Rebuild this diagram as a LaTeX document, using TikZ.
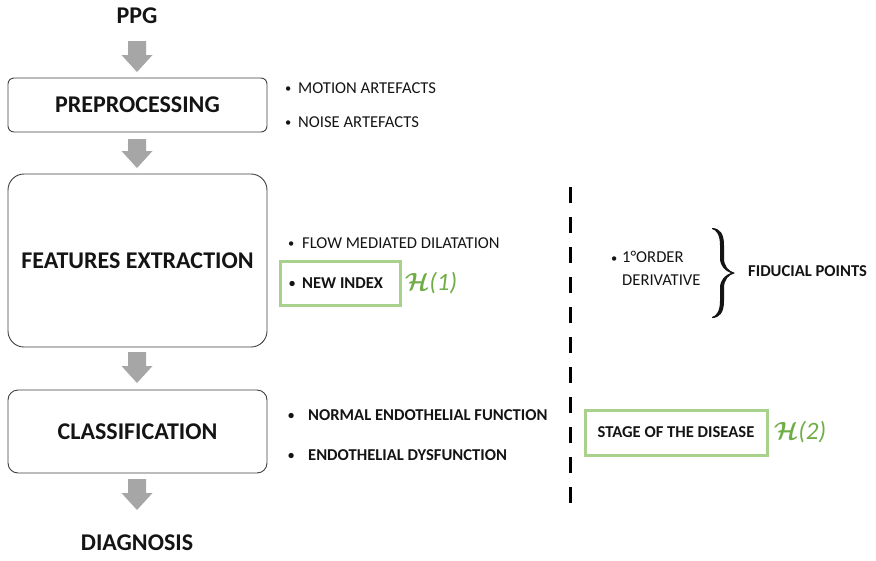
\documentclass[tikz,border=0pt]{standalone}
\usepackage{fontspec}
\setmainfont{Carlito}
\usetikzlibrary{calc}
\definecolor{arrowgray}{RGB}{166,166,166}
\definecolor{boxline}{RGB}{64,64,64}
\definecolor{softgreen}{RGB}{169,209,142}
\definecolor{hgreen}{RGB}{112,173,71}
\definecolor{ink}{RGB}{20,20,20}
\newcommand{\dotmark}[1]{\makebox[#1][l]{\raisebox{0.6pt}{\scalebox{0.75}{•}}}}
\newcommand{\hsym}[1]{{\mathversion{bold}$\mathcal{H}$}\textit{(#1)}}
\begin{document}
\begin{tikzpicture}[x=1pt,y=-1pt,
  stagebox/.style={draw=boxline,line width=0.9pt,fill=white,inner sep=0pt,
    font=\bfseries\fontsize{24}{24}\selectfont,text=ink},
  bigtitle/.style={font=\bfseries\fontsize{24}{24}\selectfont,text=ink,inner sep=0pt},
  item/.style={anchor=west,inner sep=0pt,font=\fontsize{16.6}{16.6}\selectfont,text=ink},
  bolditem/.style={item,font=\bfseries\fontsize{16.6}{16.6}\selectfont},
  greenbox/.style={draw=softgreen,line width=3pt,inner sep=0pt},
  hlabel/.style={font=\fontsize{25}{25}\selectfont,text=hgreen,inner sep=0pt},
  divider/.style={line width=3.5pt,dash pattern=on 16pt off 14pt},
  blockarrow/.style={to path={let \p1=(\tikztostart), \p2=(\tikztotarget) in
    (\x1-9pt,\y1) -- (\x1+9pt,\y1) -- (\x1+9pt,\y2+17pt) -- (\x1+15.5pt,\y2+17pt)
    -- (\x2,\y2) -- (\x1-15.5pt,\y2+17pt) -- (\x1-9pt,\y2+17pt) -- cycle}}
]
\useasboundingbox (0,0) rectangle (876,560);

% main pipeline
\node[bigtitle] (ppg) at (137,16) {PPG};
\node[stagebox,minimum width=259pt,minimum height=54pt,rounded corners=6pt]
  (pre) at (137.5,105) {PREPROCESSING};
\node[stagebox,minimum width=259pt,minimum height=173pt,rounded corners=16pt]
  (feat) at (137.5,260.5) {FEATURES EXTRACTION};
\node[stagebox,minimum width=259pt,minimum height=83pt,rounded corners=10pt]
  (cls) at (137.5,431.5) {CLASSIFICATION};
\node[bigtitle] (diag) at (137,543) {DIAGNOSIS};

% gray block arrows between the stages
\coordinate (a1s) at (137,41);  \coordinate (a1e) at (137,72);
\coordinate (a2s) at (137,139); \coordinate (a2e) at (137,168);
\coordinate (a3s) at (137,352); \coordinate (a3e) at (137,383);
\coordinate (a4s) at (137,479); \coordinate (a4e) at (137,510);
\fill[arrowgray] (a1s) to[blockarrow] (a1e);
\fill[arrowgray] (a2s) to[blockarrow] (a2e);
\fill[arrowgray] (a3s) to[blockarrow] (a3e);
\fill[arrowgray] (a4s) to[blockarrow] (a4e);

% preprocessing notes
\node[item] (motion) at (285,88) {\dotmark{13pt}MOTION ARTEFACTS};
\node[item] (noise) at (285,122) {\dotmark{13pt}NOISE ARTEFACTS};

% feature notes
\node[item] (fmd) at (288,243) {\dotmark{14pt}FLOW MEDIATED DILATATION};
\node[greenbox,minimum width=120pt,minimum height=44pt] (newbox) at (340,283) {};
\node[bolditem] (newidx) at (289,283) {\dotmark{13pt}NEW INDEX};
\node[hlabel] (h1) at (431,283) {\hsym{1}};

% separator
\coordinate (divtop) at (570.5,187);
\coordinate (divbot) at (570.5,503);
\draw[divider] (divtop) -- (divbot);

% derivative and fiducial points
\node[item] (ord) at (611,257) {\dotmark{11pt}1°ORDER};
\node[item] (deriv) at (622,280) {DERIVATIVE};
% curly brace drawn as a filled outline, tip pointing right
\fill[ink] (712,228) .. controls (720,228) and (724,234) .. (724,245)
  -- (724,258) .. controls (724,266) and (728,271) .. (735,273)
  .. controls (728,275) and (724,280) .. (724,288)
  -- (724,301) .. controls (724,312) and (720,318) .. (712,318)
  -- (712,317) .. controls (717,316) and (720,310) .. (720,301)
  -- (720,288) .. controls (720,280) and (725,275) .. (731,273)
  .. controls (725,271) and (720,266) .. (720,258)
  -- (720,245) .. controls (720,236) and (717,230) .. (712,229) -- cycle;
\node[bolditem] (fid) at (748,271) {FIDUCIAL POINTS};

% classification notes
\node[bolditem] (normal) at (288,415) {\dotmark{20pt}NORMAL ENDOTHELIAL FUNCTION};
\node[bolditem] (dysf) at (288,455) {\dotmark{20pt}ENDOTHELIAL DYSFUNCTION};
\node[greenbox,minimum width=182pt,minimum height=45pt,
  font=\bfseries\fontsize{16.6}{16.6}\selectfont,text=ink] (stage) at (676,432.5)
  {STAGE OF THE DISEASE};
\node[hlabel] (h2) at (800,432) {\hsym{2}};
\end{tikzpicture}
\end{document}
